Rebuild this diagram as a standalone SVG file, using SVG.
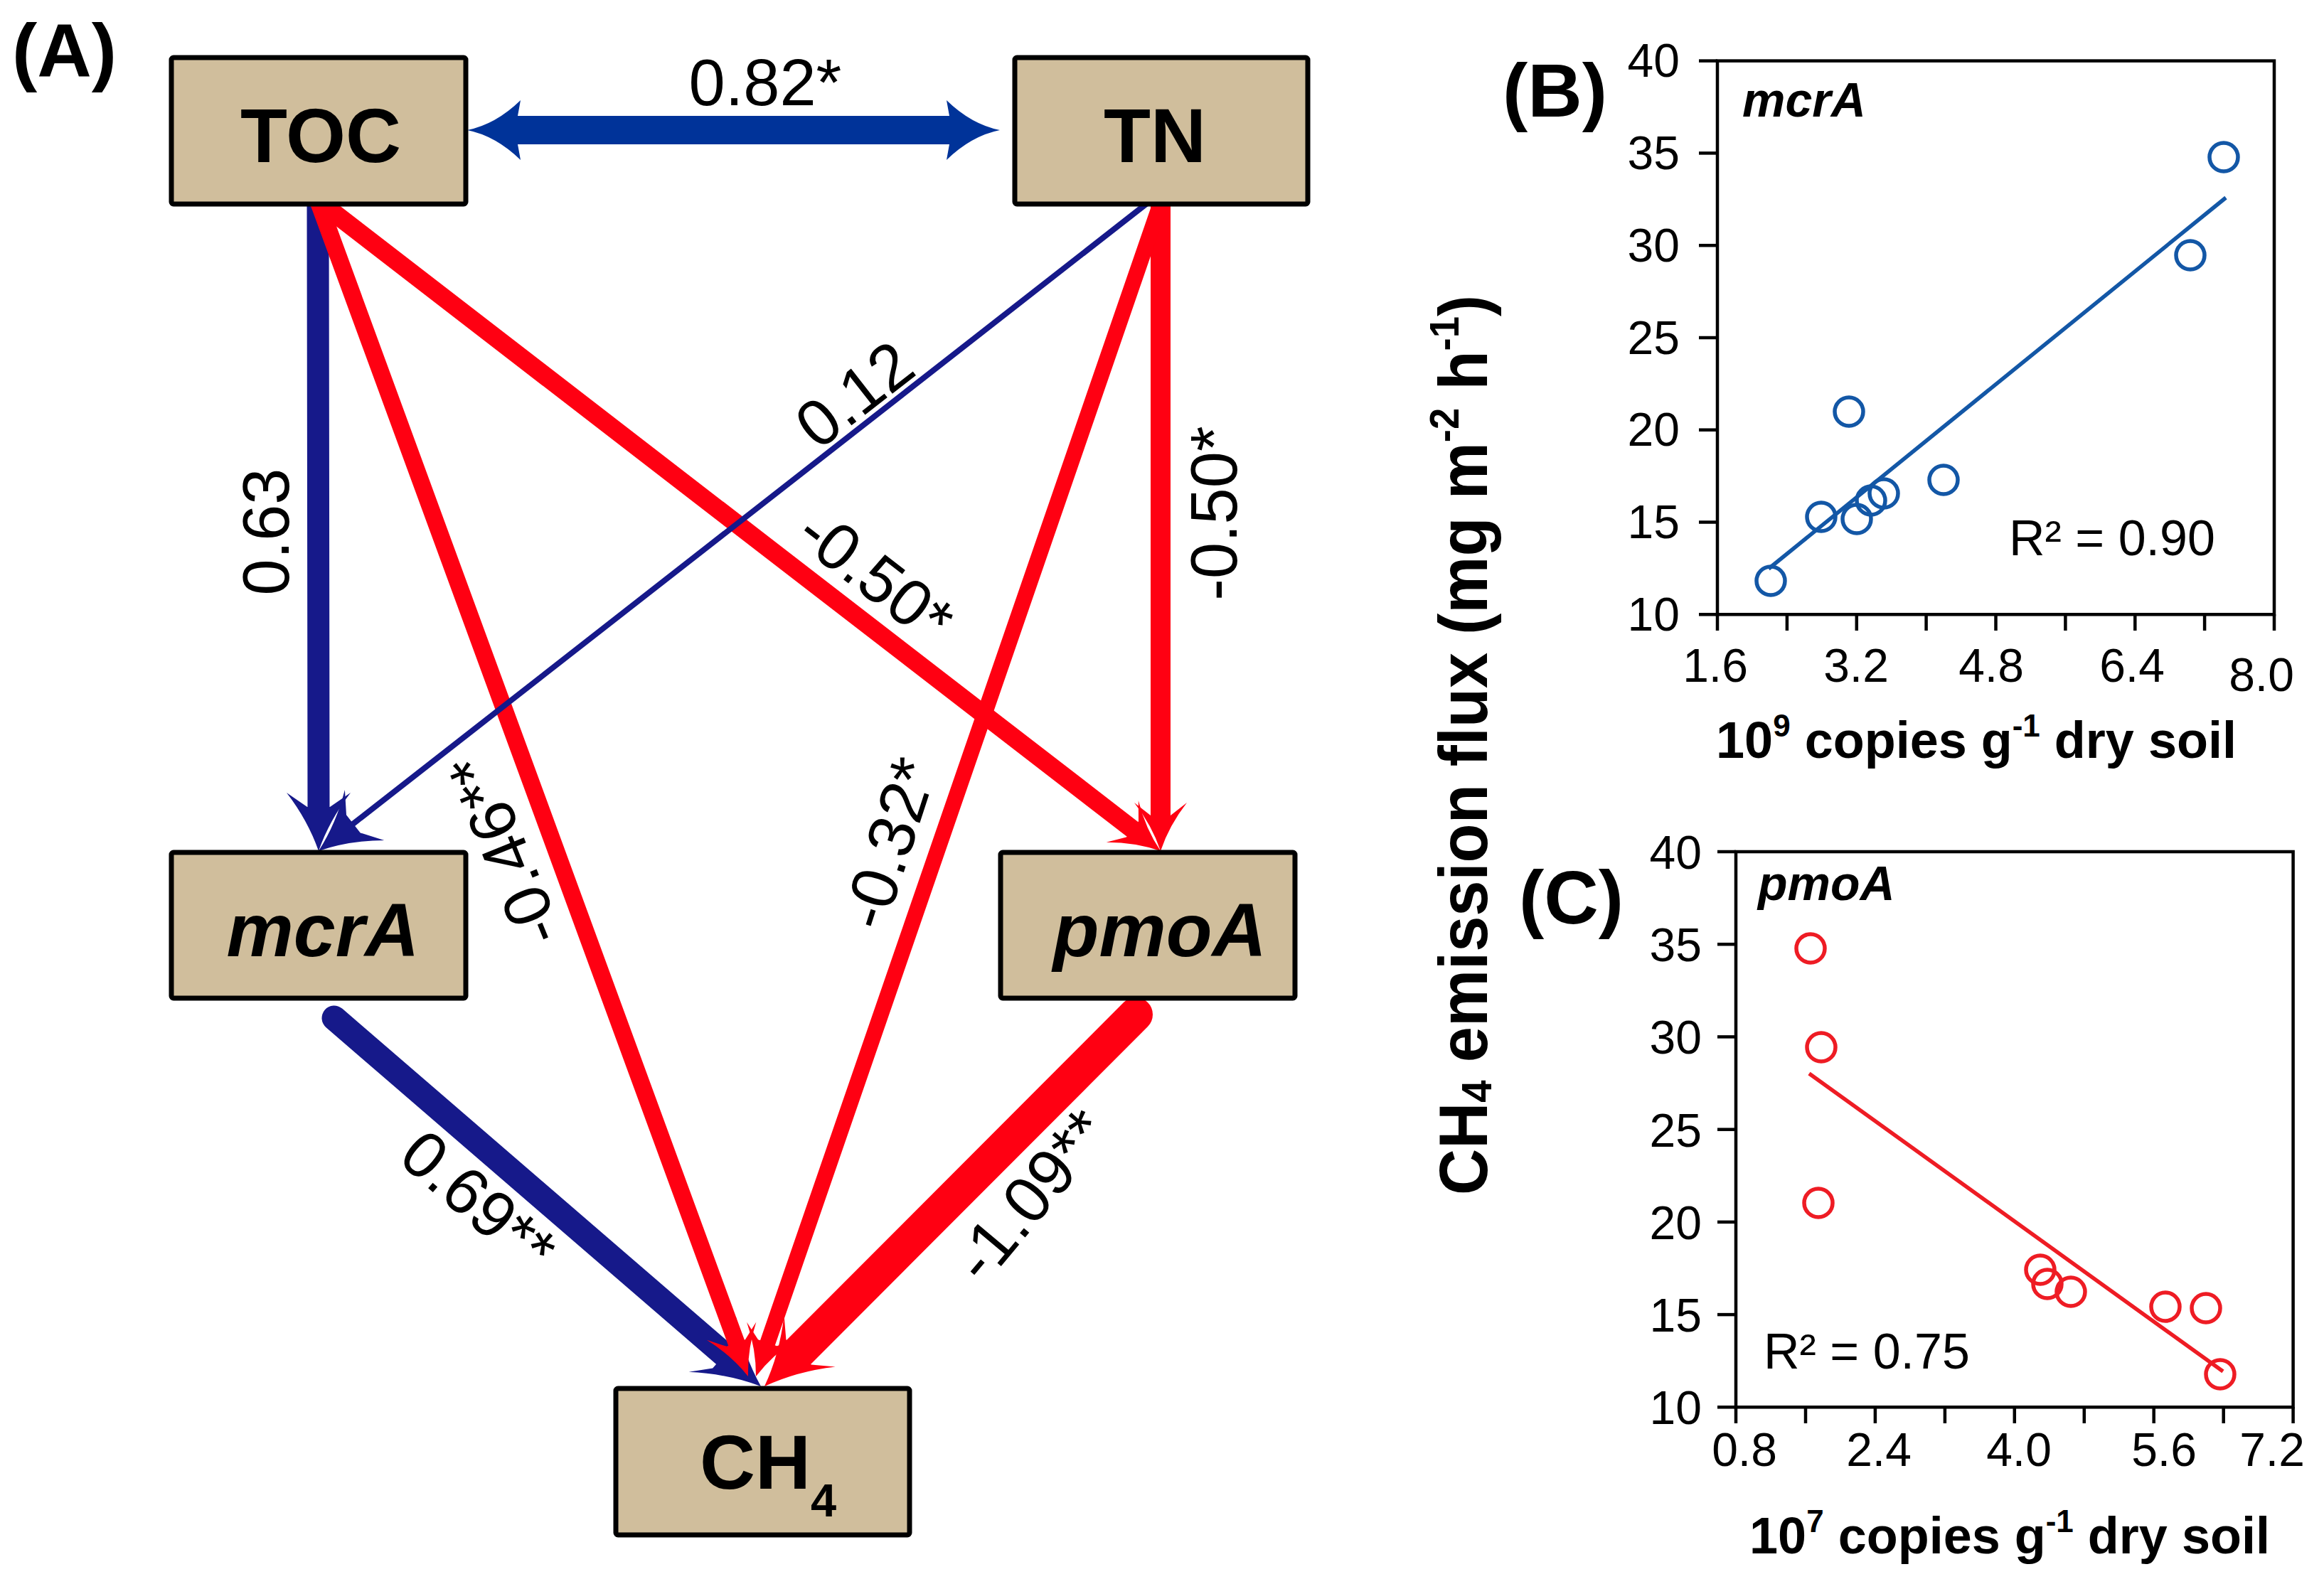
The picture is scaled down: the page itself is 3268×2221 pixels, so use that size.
<svg xmlns="http://www.w3.org/2000/svg" xmlns:xlink="http://www.w3.org/1999/xlink" width="3268" height="2221" viewBox="0 0 3268 2221">
<style>
text{font-family:"Liberation Sans",Arial,sans-serif;fill:#000}
.node rect{fill:#D0BE9C;stroke:#000;stroke-width:7}
.nt{font-size:108px;font-weight:bold;text-anchor:middle}
.ni{font-size:106px;font-weight:bold;font-style:italic;text-anchor:middle}
.el{font-size:92px;text-anchor:middle}
.panel{font-size:106px;font-weight:bold}
.navy{stroke:#16198A;fill:none}
.red{stroke:#FF0012;fill:none}
.hn{fill:#16198A}
.hr{fill:#FF0012}
.ax{fill:none;stroke:#000;stroke-width:4.5}
.tk{stroke:#000;stroke-width:4.5}
.tl{font-size:66px}
.yl{text-anchor:end}
.xl{text-anchor:middle}
.gi{font-size:68px;font-weight:bold;font-style:italic}
.r2{font-size:70px}
.xt{font-size:72px;font-weight:bold;text-anchor:middle}
.pb{fill:none;stroke:#1357A6;stroke-width:5.5}
.pc{fill:none;stroke:#EE1C24;stroke-width:5.5}
</style>
<defs>
<path id="headA" d="M0,0 Q-36,-12 -68,-37 L-50,-14 L-50,14 L-68,37 Q-36,12 0,0 Z"/>
<path id="headB" d="M0,0 Q-43,-15 -82,-45 L-62,-16 L-62,16 L-82,45 Q-43,15 0,0 Z"/>
<path id="headC" d="M0,0 Q-47,-17 -90,-51 L-68,-25 L-68,25 L-90,51 Q-47,17 0,0 Z"/>
<path id="headD" d="M0,0 Q-40,-8 -75,-42 L-71,-20 L-71,20 L-75,42 Q-40,8 0,0 Z"/>
</defs>
<rect width="3268" height="2221" fill="#fff"/>

<text class="panel" x="17" y="108">(A)</text>

<g id="connectors">
  <g id="edge-TOC-TN">
    <line x1="720" y1="183" x2="1343" y2="183" stroke="#003399" stroke-width="40"/>
    <use xlink:href="#headD" fill="#003399" transform="translate(657,183) rotate(180)"/>
    <use xlink:href="#headD" fill="#003399" transform="translate(1406,183)"/>
  </g>
  <g id="edge-mcrA-CH4">
    <line class="navy" x1="470" y1="1432" x2="1019" y2="1906" stroke-width="35" stroke-linecap="round"/>
    <use xlink:href="#headC" class="hn" transform="translate(1070,1950) rotate(40.8)"/>
  </g>
  <g id="edge-TOC-mcrA">
    <line class="navy" x1="447" y1="282" x2="448" y2="1140" stroke-width="31" stroke-linecap="round"/>
    <use xlink:href="#headB" class="hn" transform="translate(448,1197) rotate(90)"/>
  </g>
  <g id="edge-TN-pmoA">
    <line class="red" x1="1632" y1="286" x2="1632" y2="1150" stroke-width="28" stroke-linecap="round"/>
    <use xlink:href="#headA" class="hr" transform="translate(1632,1197) rotate(90)"/>
  </g>
  <g id="edge-TOC-CH4">
    <line class="red" x1="447" y1="282" x2="1036" y2="1890" stroke-width="24" stroke-linecap="round"/>
    <use xlink:href="#headA" class="hr" transform="translate(1052,1936) rotate(69.9)"/>
  </g>
  <g id="edge-TN-CH4">
    <line class="red" x1="1632" y1="286" x2="1079" y2="1890" stroke-width="22" stroke-linecap="round"/>
    <use xlink:href="#headA" class="hr" transform="translate(1063,1936) rotate(109)"/>
  </g>
  <g id="edge-TOC-pmoA">
    <line class="red" x1="447" y1="282" x2="1592" y2="1166" stroke-width="26" stroke-linecap="round"/>
    <use xlink:href="#headA" class="hr" transform="translate(1632,1197) rotate(37.7)"/>
  </g>
  <g id="edge-TN-mcrA">
    <line class="navy" x1="1613" y1="286" x2="495" y2="1160" stroke-width="8" stroke-linecap="round"/>
    <use xlink:href="#headB" class="hn" transform="translate(448,1197) rotate(142)"/>
  </g>
  <g id="edge-pmoA-CH4">
    <line class="red" x1="1597" y1="1427" x2="1123" y2="1902" stroke-width="48" stroke-linecap="round"/>
    <use xlink:href="#headC" class="hr" transform="translate(1075,1950) rotate(135)"/>
  </g>

  <g id="edge-labels">
    <text class="el" x="1076" y="148">0.82*</text>
    <text class="el" transform="translate(406,748) rotate(-90)">0.63</text>
    <text class="el" transform="translate(1221,580) rotate(-37.9)">0.12</text>
    <text class="el" transform="translate(1212,835) rotate(37.7)">-0.50*</text>
    <text class="el" transform="translate(1739,722) rotate(-90)">-0.50*</text>
    <text class="el" transform="translate(739,1184) rotate(-112)">-0.46**</text>
    <text class="el" transform="translate(1281,1196) rotate(-72)">-0.32*</text>
    <text class="el" transform="translate(652,1714) rotate(40.7)">0.69**</text>
    <text class="el" transform="translate(1474,1702) rotate(-50)">-1.09**</text>
  </g>
</g>

<g id="node-TOC" class="node">
  <rect x="241" y="81" width="414" height="206" rx="3"/>
  <text class="nt" x="451" y="228">TOC</text>
</g>
<g id="node-TN" class="node">
  <rect x="1427" y="81" width="412" height="206" rx="3"/>
  <text class="nt" x="1624" y="228">TN</text>
</g>
<g id="node-mcrA" class="node">
  <rect x="241" y="1199" width="414" height="205" rx="3"/>
  <text class="ni" x="454" y="1345">mcrA</text>
</g>
<g id="node-pmoA" class="node">
  <rect x="1407" y="1199" width="414" height="205" rx="3"/>
  <text class="ni" x="1631" y="1345">pmoA</text>
</g>
<g id="node-CH4" class="node">
  <rect x="866" y="1953" width="413" height="206" rx="3"/>
  <text class="nt" x="1080" y="2094">CH<tspan font-size="65" dy="39">4</tspan></text>
</g>

<text font-size="96" font-weight="bold" text-anchor="middle" transform="translate(2091,1048) rotate(-90)" textLength="1266" lengthAdjust="spacingAndGlyphs">CH<tspan font-size="60" dy="6">4</tspan><tspan dy="-6"> emission flux (mg m</tspan><tspan font-size="58" dy="-40">-2</tspan><tspan dy="40"> h</tspan><tspan font-size="58" dy="-40">-1</tspan><tspan dy="40">)</tspan></text>

<g id="plot-B">
  <text class="panel" x="2113" y="164">(B)</text>
  <rect class="ax" x="2415" y="85.6" width="783" height="778.7"/>
  <g class="tk">
    <line x1="2389" y1="85.6" x2="2415" y2="85.6"/>
    <line x1="2389" y1="215.4" x2="2415" y2="215.4"/>
    <line x1="2389" y1="345.2" x2="2415" y2="345.2"/>
    <line x1="2389" y1="475" x2="2415" y2="475"/>
    <line x1="2389" y1="604.7" x2="2415" y2="604.7"/>
    <line x1="2389" y1="734.5" x2="2415" y2="734.5"/>
    <line x1="2389" y1="864.3" x2="2415" y2="864.3"/>
    <line x1="2415" y1="864" x2="2415" y2="887"/>
    <line x1="2512.9" y1="864" x2="2512.9" y2="887"/>
    <line x1="2610.8" y1="864" x2="2610.8" y2="887"/>
    <line x1="2708.6" y1="864" x2="2708.6" y2="887"/>
    <line x1="2806.5" y1="864" x2="2806.5" y2="887"/>
    <line x1="2904.4" y1="864" x2="2904.4" y2="887"/>
    <line x1="3002.3" y1="864" x2="3002.3" y2="887"/>
    <line x1="3100.1" y1="864" x2="3100.1" y2="887"/>
    <line x1="3198" y1="864" x2="3198" y2="887"/>
  </g>
  <g class="tl yl">
    <text x="2362" y="108">40</text>
    <text x="2362" y="238">35</text>
    <text x="2362" y="368">30</text>
    <text x="2362" y="498">25</text>
    <text x="2362" y="627">20</text>
    <text x="2362" y="757">15</text>
    <text x="2362" y="887">10</text>
  </g>
  <g class="tl xl">
    <text x="2412" y="959">1.6</text>
    <text x="2610" y="959">3.2</text>
    <text x="2800" y="959">4.8</text>
    <text x="2998" y="959">6.4</text>
    <text x="3180" y="972">8.0</text>
  </g>
  <text class="gi" x="2450" y="164">mcrA</text>
  <text class="r2" x="2825" y="781">R² = 0.90</text>
  <line x1="2487" y1="800" x2="3130" y2="278" stroke="#1357A6" stroke-width="5.5"/>
  <g class="pb">
    <circle cx="3127" cy="221" r="20"/>
    <circle cx="3080" cy="359" r="20"/>
    <circle cx="2600" cy="579" r="20"/>
    <circle cx="2733" cy="675" r="20"/>
    <circle cx="2649" cy="694" r="20"/>
    <circle cx="2631" cy="704" r="20"/>
    <circle cx="2561" cy="727" r="20"/>
    <circle cx="2611" cy="730" r="20"/>
    <circle cx="2490" cy="817" r="20"/>
  </g>
  <text class="xt" x="2779" y="1066">10<tspan font-size="44" dy="-30">9</tspan><tspan dy="30"> copies g</tspan><tspan font-size="44" dy="-30">-1</tspan><tspan dy="30"> dry soil</tspan></text>
</g>

<g id="plot-C">
  <text class="panel" x="2136" y="1299">(C)</text>
  <rect class="ax" x="2441" y="1198" width="783.6" height="781.3"/>
  <g class="tk">
    <line x1="2415" y1="1198" x2="2441" y2="1198"/>
    <line x1="2415" y1="1328.2" x2="2441" y2="1328.2"/>
    <line x1="2415" y1="1458.4" x2="2441" y2="1458.4"/>
    <line x1="2415" y1="1588.7" x2="2441" y2="1588.7"/>
    <line x1="2415" y1="1718.9" x2="2441" y2="1718.9"/>
    <line x1="2415" y1="1849.1" x2="2441" y2="1849.1"/>
    <line x1="2415" y1="1979.3" x2="2441" y2="1979.3"/>
    <line x1="2441" y1="1979" x2="2441" y2="2002"/>
    <line x1="2539" y1="1979" x2="2539" y2="2002"/>
    <line x1="2636.9" y1="1979" x2="2636.9" y2="2002"/>
    <line x1="2734.9" y1="1979" x2="2734.9" y2="2002"/>
    <line x1="2832.8" y1="1979" x2="2832.8" y2="2002"/>
    <line x1="2930.8" y1="1979" x2="2930.8" y2="2002"/>
    <line x1="3028.7" y1="1979" x2="3028.7" y2="2002"/>
    <line x1="3126.7" y1="1979" x2="3126.7" y2="2002"/>
    <line x1="3224.6" y1="1979" x2="3224.6" y2="2002"/>
  </g>
  <g class="tl yl">
    <text x="2393" y="1222">40</text>
    <text x="2393" y="1352">35</text>
    <text x="2393" y="1482">30</text>
    <text x="2393" y="1613">25</text>
    <text x="2393" y="1743">20</text>
    <text x="2393" y="1873">15</text>
    <text x="2393" y="2003">10</text>
  </g>
  <g class="tl xl">
    <text x="2453" y="2062">0.8</text>
    <text x="2642" y="2062">2.4</text>
    <text x="2839" y="2062">4.0</text>
    <text x="3043" y="2062">5.6</text>
    <text x="3195" y="2062">7.2</text>
  </g>
  <text class="gi" x="2472" y="1266">pmoA</text>
  <text class="r2" x="2480" y="1925">R² = 0.75</text>
  <line x1="2544" y1="1510" x2="3126" y2="1929" stroke="#EE1C24" stroke-width="5.5"/>
  <g class="pc">
    <circle cx="2546" cy="1334" r="20"/>
    <circle cx="2561" cy="1473" r="20"/>
    <circle cx="2557" cy="1692" r="20"/>
    <circle cx="2869" cy="1786" r="20"/>
    <circle cx="2879" cy="1806" r="20"/>
    <circle cx="2912" cy="1817" r="20"/>
    <circle cx="3045" cy="1838" r="20"/>
    <circle cx="3102" cy="1840" r="20"/>
    <circle cx="3122" cy="1933" r="20"/>
  </g>
  <text class="xt" x="2826" y="2185">10<tspan font-size="44" dy="-30">7</tspan><tspan dy="30"> copies g</tspan><tspan font-size="44" dy="-30">-1</tspan><tspan dy="30"> dry soil</tspan></text>
</g>
</svg>
